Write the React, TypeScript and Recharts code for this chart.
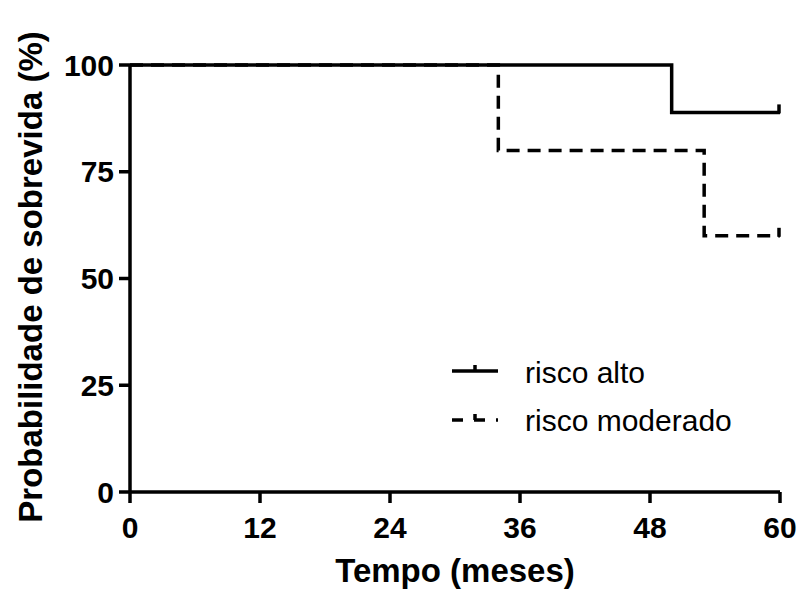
import { LineChart, Line, XAxis, YAxis } from "recharts";

// Kaplan-Meier steps (months, % surviving)
const altoTempo = [0, 50, 60];
const altoSobrevida = [100, 88.9, 88.9];
const moderadoTempo = [0, 34, 53, 60];
const moderadoSobrevida = [100, 80, 60, 60];

const seriesNames = ["risco alto", "risco moderado"];
const xTicks = [0, 12, 24, 36, 48, 60];
const yTicks = [0, 25, 50, 75, 100];

const FONT = '"Liberation Sans", Arial, sans-serif';
const STROKE = 3.5;

const altoData = altoTempo.map((t, i) => ({ t, s: altoSobrevida[i] }));
const moderadoData = moderadoTempo.map((t, i) => ({ t, s: moderadoSobrevida[i] }));

// censored mark drawn at the last point of each curve
function censorDot(count: number) {
  return (props: any) => {
    const { cx, cy, index } = props;
    if (index !== count - 1) return <g key={`d${index}`} />;
    return (
      <line
        key={`d${index}`}
        x1={cx - 1}
        x2={cx - 1}
        y1={cy + 1}
        y2={cy - 8}
        stroke="#000"
        strokeWidth={STROKE}
      />
    );
  };
}

function KmLegend() {
  return (
    <svg
      width={320}
      height={110}
      style={{ position: "absolute", left: 450, top: 340, display: "block" }}
    >
      <line x1={2} x2={48} y1={31} y2={31} stroke="#000" strokeWidth={STROKE} />
      <line x1={25} x2={25} y1={31} y2={25} stroke="#000" strokeWidth={STROKE} />
      <text x={75} y={43} fontFamily={FONT} fontSize={30} fill="#000">
        {seriesNames[0]}
      </text>
      <line
        x1={2}
        x2={48}
        y1={80}
        y2={80}
        stroke="#000"
        strokeWidth={STROKE}
        strokeDasharray="11 11"
      />
      <line x1={25} x2={25} y1={80} y2={74} stroke="#000" strokeWidth={STROKE} />
      <text x={75} y={91} fontFamily={FONT} fontSize={30} fill="#000">
        {seriesNames[1]}
      </text>
    </svg>
  );
}

export default function App() {
  const tick = { fill: "#000", fontSize: 30, fontWeight: "bold", fontFamily: FONT };
  const tickLine = { stroke: "#000", strokeWidth: STROKE };
  const axisLine = { stroke: "#000", strokeWidth: STROKE };

  return (
    <div style={{ position: "absolute", left: 0, top: 0, width: 798, height: 595, background: "#fff" }}>
      <LineChart
        width={798}
        height={595}
        margin={{ top: 65, right: 18, left: 0, bottom: 0 }}
      >
        <XAxis
          type="number"
          dataKey="t"
          domain={[0, 60]}
          ticks={xTicks}
          interval={0}
          height={103}
          tick={tick}
          tickLine={tickLine}
          axisLine={axisLine}
          tickSize={11}
          tickMargin={14}
          label={{
            content: () => (
              <text
                x={455}
                y={582}
                textAnchor="middle"
                fontFamily={FONT}
                fontSize={33}
                fontWeight="bold"
                fill="#000"
              >
                Tempo (meses)
              </text>
            ),
          }}
        />
        <YAxis
          type="number"
          dataKey="s"
          domain={[0, 100]}
          ticks={yTicks}
          interval={0}
          width={130}
          tick={tick}
          tickLine={tickLine}
          axisLine={axisLine}
          tickSize={11}
          tickMargin={5}
          label={{
            content: () => (
              <text
                transform="translate(42 277) rotate(-90)"
                textAnchor="middle"
                fontFamily={FONT}
                fontSize={33}
                fontWeight="bold"
                fill="#000"
              >
                Probabilidade de sobrevida (%)
              </text>
            ),
          }}
        />
        <Line
          name={seriesNames[1]}
          data={moderadoData}
          dataKey="s"
          type="stepAfter"
          stroke="#000"
          strokeWidth={STROKE}
          strokeDasharray="13 8"
          dot={censorDot(moderadoData.length)}
          activeDot={false}
          isAnimationActive={false}
        />
        <Line
          name={seriesNames[0]}
          data={altoData}
          dataKey="s"
          type="stepAfter"
          stroke="#000"
          strokeWidth={STROKE}
          dot={censorDot(altoData.length)}
          activeDot={false}
          isAnimationActive={false}
        />
      </LineChart>
      <KmLegend />
    </div>
  );
}
